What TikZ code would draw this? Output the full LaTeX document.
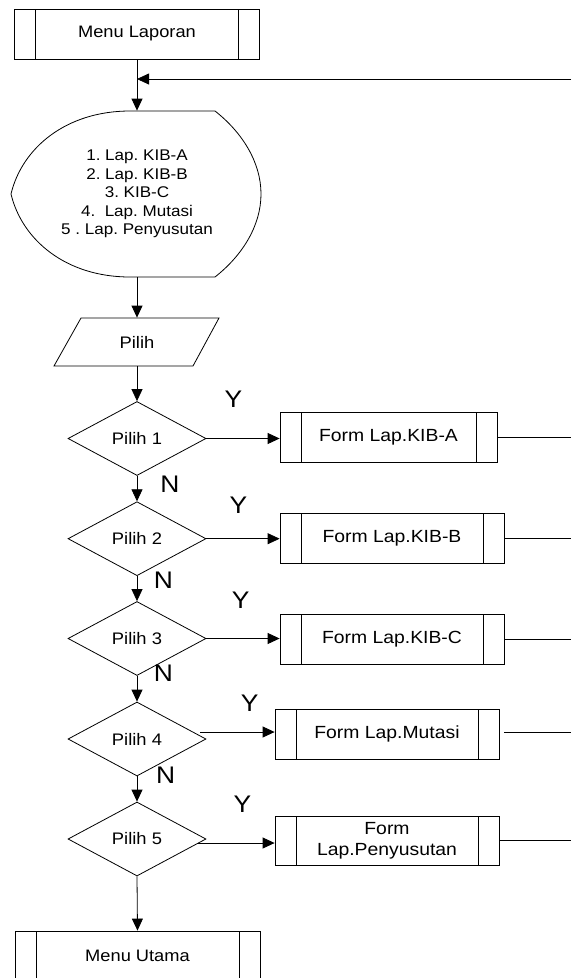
\documentclass[tikz,border=0pt]{standalone}
\usepackage{fontspec}
\setmainfont[FakeStretch=1.1]{Liberation Sans}
\usetikzlibrary{arrows.meta,shapes.geometric}
\frenchspacing
\begin{document}
\begin{tikzpicture}[x=1pt,y=-1pt,line width=0.8pt,
  proc/.style={draw,rectangle,inner sep=0pt,minimum height=50pt,
    path picture={\draw ([xshift=21pt]path picture bounding box.north west) -- ([xshift=21pt]path picture bounding box.south west)
      ([xshift=-21pt]path picture bounding box.north east) -- ([xshift=-21pt]path picture bounding box.south east);}},
  boxtext/.style={font=\fontsize{17.6}{21}\selectfont,align=center},
  dec/.style={draw,diamond,aspect=1.865,minimum width=138pt,minimum height=74pt,inner sep=0pt,font=\fontsize{16.7}{19}\selectfont},
  arr/.style={-{Triangle[length=12pt,width=11pt]}},
  yn/.style={font=\fontsize{24}{28}\selectfont,inner sep=0pt}]
\useasboundingbox (0,0) rectangle (571,978);
\clip (0,0) rectangle (571,978);
% top menu
\node[proc,minimum width=245pt,font=\fontsize{16.6}{19}\selectfont] (ml) at (137,34) {Menu Laporan};
% display
\node[minimum width=10pt,minimum height=166pt,inner sep=0pt,align=center,font=\fontsize{15.5}{18.4}\selectfont] (disp) at (137,194)
  {1. Lap. KIB-A\\2. Lap. KIB-B\\3. KIB-C\\4.\ \ Lap. Mutasi\\5 . Lap. Penyusutan};
\draw (130,111) -- (215,111) .. controls (243,133) and (261,163) .. (261,194)
  .. controls (261,225) and (243,255) .. (215,277) -- (130,277)
  .. controls (66,277) and (22,240) .. (11,194)
  .. controls (22,148) and (66,111) .. (130,111) -- cycle;
% input
\node[minimum width=120pt,minimum height=48pt,inner sep=0pt,font=\fontsize{16.7}{19}\selectfont] (pil) at (137,342) {Pilih};
\draw (81,318) -- (219,318) -- (193,366) -- (54,366) -- cycle;
% decisions
\node[dec] (d1) at (137,438.5) {Pilih 1};
\node[dec] (d2) at (137,538.7) {Pilih 2};
\node[dec] (d3) at (137,638.5) {Pilih 3};
\node[dec] (d4) at (137,739) {Pilih 4};
\node[dec] (d5) at (137,839) {Pilih 5};
% forms
\node[proc,boxtext,minimum width=217pt] (b1) at (388.5,437) {Form Lap.KIB-A};
\node[proc,boxtext,minimum width=224pt] (b2) at (392,538) {Form Lap.KIB-B};
\node[proc,boxtext,minimum width=224pt] (b3) at (392,639) {Form Lap.KIB-C};
\node[proc,boxtext,minimum width=224pt] (b4) at (387,734) {Form Lap.Mutasi};
\node[proc,boxtext,minimum width=224pt,minimum height=49pt] (b5) at (387,840.5) {Form\\Lap.Penyusutan};
% bottom menu
\node[proc,minimum width=245pt,font=\fontsize{16.6}{19}\selectfont] (mu) at (137.5,956) {Menu Utama};
% labels
\node[yn] (y1) at (233.4,399) {Y};
\node[yn] (y2) at (238.5,505) {Y};
\node[yn] (y3) at (240.7,600) {Y};
\node[yn] (y4) at (249.8,703) {Y};
\node[yn] (y5) at (242.5,804) {Y};
\node[yn] (n1) at (170,484) {N};
\node[yn] (n2) at (163.5,580) {N};
\node[yn] (n3) at (163.5,673) {N};
\node[yn] (n4) at (165.7,775) {N};
% connectors
\coordinate (fb) at (571,79);
\draw[arr] (ml.south) -- (disp.north);
\draw[arr] (fb) -- (fb -| ml.south);
\draw[arr] (disp.south) -- (pil.north);
\draw[arr] (pil.south) -- (d1.north);
\draw[arr] (d1.south) -- (d2.north);
\draw[arr] (d2.south) -- (d3.north);
\draw[arr] (d3.south) -- (d4.north);
\draw[arr] (d4.south) -- (d5.north);
\draw[arr] (d5.south) -- (mu.north);
\draw[arr] (d1.east) -- (d1.east -| b1.west);
\draw[arr] (d2.east) -- (d2.east -| b2.west);
\draw[arr] (d3.east) -- (d3.east -| b3.west);
\coordinate (c4) at (200,732);
\coordinate (c5) at (197,843);
\draw[arr] (c4) -- (c4 -| b4.west);
\draw[arr] (c5) -- (c5 -| b5.west);
\coordinate (r1) at (571,437);
\coordinate (r2) at (571,538);
\coordinate (r3) at (571,639);
\coordinate (s4) at (504,732);
\coordinate (r4) at (571,732);
\coordinate (r5) at (571,840.5);
\draw (b1.east) -- (r1);
\draw (b2.east) -- (r2);
\draw (b3.east) -- (r3);
\draw (s4) -- (r4);
\draw (b5.east) -- (r5);
\end{tikzpicture}
\end{document}
